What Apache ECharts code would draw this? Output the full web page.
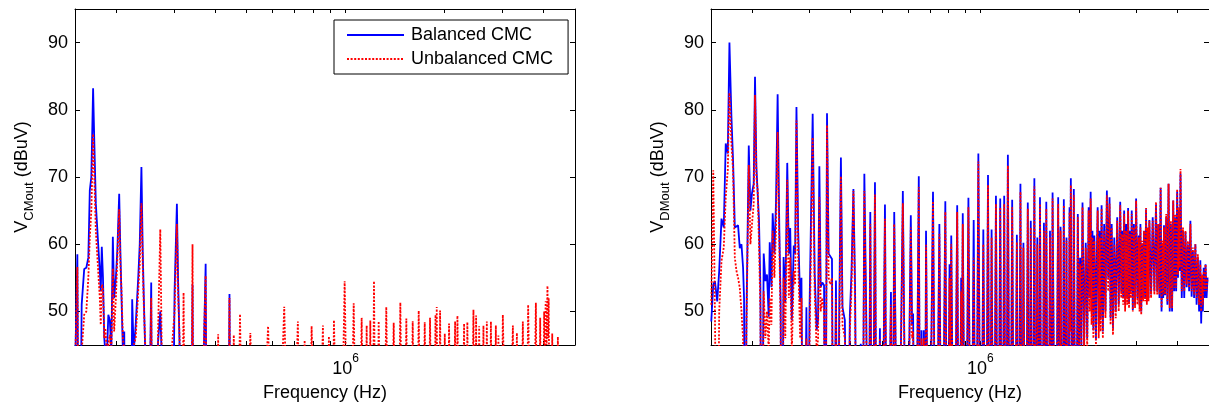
<!DOCTYPE html>
<html>
<head>
<meta charset="utf-8">
<script src="https://cdn.jsdelivr.net/npm/echarts@6/dist/echarts.min.js"></script>
<style>
  html, body { margin: 0; padding: 0; background: #fff; }
  #chart { width: 1209px; height: 409px; }
</style>
</head>
<body>
<div id="chart"></div>
<script>
// Common-mode output spectrum, [frequency in kHz, level in dBuV]; 10 dBuV marks the floor between harmonics
const cmBalanced = [
  [150.5,44],[152.5,58.5],[154.3,10],[157.2,51.0],[160.0,56.3],[162.4,56.5],[164.7,58.0],[166.4,68.0],
  [168.2,70.0],[170.3,83.2],[171.8,75.0],[173.6,66.0],[176.0,61.0],[178.5,56.0],[179.7,53.0],[181.0,59.6],
  [182.5,55.1],[184.2,46.0],[185.5,44.0],[187.5,43.0],[189.5,49.5],[191.5,48.7],[193.5,44.0],[195.6,61.1],
  [197.4,52.0],[199.8,55.0],[201.9,59.2],[204.5,67.5],[206.2,59.0],[207.7,52.7],[209.9,44.0],[211.9,47.0],
  [214.2,10],[221.0,10],[224.0,51.8],[226.4,44.0],[229.6,48.0],[233.7,55.0],[236.2,60.0],[239.0,71.5],
  [241.2,59.0],[243.0,52.1],[245.5,44.0],[249.0,10],[256.0,54.3],[258.4,10],[268.6,45.5],[272.8,50.0],
  [275.3,44.0],[280.0,10],[295.3,10],[301.6,53.0],[306.5,66.0],[309.0,55.0],[312.3,45.0],[316.0,10],
  [338.0,10],[342.0,54.0],[345.0,10],[365.0,10],[370.6,45.0],[375.0,57.1],[379.0,10],[438.0,10],
  [443.2,52.6],[448.0,10],[5000,10]
];
const cmUnbalanced = [
  [150.5,44],[152.5,56.6],[154.3,10],[157.2,44],[160.0,49.5],[162.4,50.0],[164.7,55.0],[166.4,61.0],
  [168.2,65.0],[170.3,76.4],[171.8,70.0],[173.6,62.0],[176.0,57.0],[178.5,52.0],[179.7,48.0],[181.0,54.0],
  [182.5,53.6],[184.2,46.0],[185.5,47.5],[187.5,44.0],[189.5,45.0],[191.5,46.5],[193.5,44.0],[195.6,56.4],
  [197.4,47.0],[199.8,52.0],[201.9,58.0],[204.5,65.2],[206.2,57.0],[207.7,53.5],[209.9,46.0],[211.9,44.0],
  [214.2,10],[224.0,44.0],[226.4,45.0],[229.6,46.0],[233.7,53.0],[236.2,57.0],[239.0,66.1],[241.2,57.0],
  [243.0,51.0],[245.5,45.0],[249.0,10],[256.0,52.0],[258.4,10],[266.0,10],[268.6,47.0],[272.8,62.2],
  [275.3,46.0],[280.0,10],[295.3,44.0],[301.6,50.0],[306.5,63.0],[309.0,53.0],[312.3,46.0],[316.0,10],
  [321.2,52.8],[326.0,10],[338.0,10],[342.0,60.0],[345.0,10],[365.0,10],[370.6,46.0],[375.0,55.3],
  [379.0,10],[405.0,10],[409.4,46.6],[414.0,10],[438.0,10],[443.2,52.0],[448.0,10],[456.8,46.5],
  [465.0,10],[477.2,49.6],[490.0,10],[513.0,46.8],[540.0,10],[581.0,47.8],[610.0,10],[650.7,50.7],
  [680.0,10],[716.0,48.5],[733.0,10],[750.8,45.7],[770.0,10],[788.4,47.8],[820.0,10],[853.5,47.9],
  [872.0,10],[890.0,46.3],[906.0,10],[922.0,48.7],[958.0,10],[994.0,54.5],[1026,10],[1059,51.2],
  [1090,10],[1120,49.05],[1140,10],[1160,47.9],[1175,10],[1190,48.65],[1205,10],[1221,54.5],
  [1241,10],[1262,48.55],[1296,10],[1331,50.65],[1366,10],[1402,48.3],[1435,10],[1469,51.3],
  [1500,10],[1532,48.95],[1567,10],[1602,48.55],[1636,10],[1671,50.1],[1707,10],[1743,48.4],
  [1776,10],[1809,49.05],[1850,10],[1880,49.5],[1888,10],[1896,50.65],[1918,10],[1941,50.15],
  [1973,10],[2006,46.7],[2036,10],[2067,48.2],[2110,10],[2157,48.5],[2175,10],[2192,49.35],
  [2245,10],[2297,48.2],[2323,10],[2350,48.4],[2400,10],[2453,50.25],[2476,10],[2499,49.4],
  [2526,10],[2553,47.8],[2592,10],[2631,47.9],[2662,10],[2694,48.5],[2733,10],[2772,48.5],
  [2821,10],[2870,47.9],[2896,10],[2922,46.4],[2968,10],[3014,49.5],[3124,10],[3234,47.9],
  [3280,10],[3326,46.8],[3397,10],[3468,48.5],[3534,10],[3600,51.0],[3700,10],[3800,51.3],
  [3858,10],[3917,49.05],[3972,10],[4027,50.0],[4048,44],[4070,51.5],[4096,45],[4122,53.8],
  [4140,46],[4157,52.0],[4210,10],[4262,46.7],[4350,10],[4434,46.2],[4520,10],[5000,10]
];

// Differential-mode output spectrum, [frequency in kHz, level in dBuV]
const dmBalanced = [
  [150.3,48.5],[152.4,54.0],[154.2,54.5],[156.7,51.5],[158.9,56],[161.5,63.8],[164.1,62.5],[166.4,75],
  [168.8,73.5],[170.8,90],[173.2,79],[175.2,72.5],[177.4,62.5],[179.5,62.3],[181.5,62.8],[183.7,59.4],
  [185.9,60],[188.0,56.5],[189.3,52],[190.7,10],[192.5,48.7],[195.7,74.7],[198.0,65],[200.2,67.6],
  [202.6,69],[204.5,84.9],[206.5,71.5],[208.4,71.5],[210.3,63.6],[212.4,53.6],[214.3,10],[217.4,58.6],
  [220.0,54.5],[222.5,55.5],[225.2,49.2],[226.8,60.3],[229.5,53.6],[231.6,64.6],[234.4,58.6],[237.0,66],
  [239.8,82.3],[242.7,62],[244.9,51.4],[247.1,10],[250.1,58.1],[253.1,51.4],[256.6,72.1],[259.5,58.6],
  [262.0,62.4],[265.0,48.7],[268.7,59.8],[271.3,58.6],[273.8,80.4],[277.1,62.1],[281.0,51.4],[283.6,55],
  [287.6,10],[293.7,50.6],[297.0,10],[300.0,49.5],[306.9,79.4],[311.3,55.6],[315.7,47.2],[318.8,48.7],
  [321.7,71.6],[324.7,53.6],[328.5,54.3],[332.5,53.9],[335.5,10],[339.5,79.5],[343.4,58.6],[347.4,58.6],
  [351.6,57.8],[355.6,10],[361.6,54.6],[365.6,10],[370.0,49.5],[374.4,72.9],[378.6,50.6],[385.0,48.7],
  [392.1,10],[398.7,49.5],[403.2,55.4],[408.9,68.2],[413.7,53.6],[419.6,10],[430.5,45.2],[435.4,10],
  [441.6,70.5],[447.8,48.7],[454.2,10],[460.5,64.8],[467.0,10],[475.9,69.2],[482.6,10],[492.8,47.5],
  [498.7,10],[510.6,65.9],[518.8,10],[532.6,52.9],[537.4,10],[545.0,64.8],[560.0,10],[579.1,67.9],
  [595.0,10],[612.5,64.3],[618.0,48],[622.4,49.7],[633.0,10],[647.9,70.1],[655.0,10],[660.3,47.2],
  [666.0,10],[671.0,47.2],[676.0,10],[681.8,62],[695.0,10],[716.1,67.8],[731.3,10],[748.9,63],
  [762.7,10],[781.0,66.4],[793.0,10],[804.6,57.0],[809.0,45.0],[814.3,61.3],[831.0,10],[849.1,65.8],
  [861.0,10],[873.1,55.0],[878.0,44.0],[883.0,64.6],[900.0,10],[918.9,66.9],[936.0,10],[953.6,63.6],
  [969.0,10],[985.5,73.5],[1003,10],[1020.6,62.2],[1038,10],[1054.8,70.3],[1068,10],[1081.8,62.2],
  [1098,10],[1115.5,67.2],[1132,10],[1149.6,66.8],[1166,10],[1182.2,67.2],[1197,10],[1213.2,73.3],
  [1232,10],[1250.5,66.6],[1271,10],[1292.4,61.4],[1309,10],[1325.4,69.0],[1340,10],[1353.5,60.2],
  [1375,10],[1395.9,66.2],[1410,10],[1425.3,63.5],[1443,10],[1461.9,69.8],[1477,10],[1492.8,61.0],
  [1507,10],[1521,67.0],[1542,10],[1564,63.2],[1577,10],[1590,66.3],[1611,10],[1632,62.0],
  [1647,10],[1662,67.7],[1695,10],[1729,67.0],[1743,10],[1758,62.6],[1778,10],[1799,66.7],
  [1816,10],[1833,61.0],[1853,10],[1873,65.5],[1881,48.0],[1890,69.8],[1910,10],[1930,68.2],
  [1958,10],[1985,64.5],[2002,44],[2018,58],[2035,45],[2052,66.2],[2075,45],[2099,60.2],
  [2121,46],[2143,65.5],[2158,52],[2173,67.8],[2187,50],[2201,62],[2215,47.2],[2230,61.3],
  [2256,45.7],[2269,58],[2283,65.5],[2300,48],[2315,62],[2331,49],[2347,65.8],[2368,47],
  [2390,63],[2412,50],[2436,68],[2459,55],[2482,67],[2500,49],[2520,63],[2543,47.5],
  [2566,61],[2593,50],[2620,64],[2648,51],[2676,66.3],[2695,53],[2713,62],[2732,52],
  [2751,65],[2770,51],[2790,63],[2810,52],[2829,65.4],[2847,51.1],[2865,62],[2883,53],
  [2902,65],[2924,50.2],[2946,63],[2970,51],[2993,66.8],[3020,52],[3048,61.3],[3066,51],
  [3085,63],[3103,50],[3121,60.1],[3143,52],[3165,62],[3188,51.9],[3210,65.2],[3228,51.5],
  [3247,62],[3266,52],[3285,63.6],[3325,52.5],[3364,64],[3404,53],[3443,65.9],[3472,53],
  [3500,63],[3528,52],[3557,68.4],[3580,50],[3605,60],[3622,52],[3642,62.8],[3670,52.4],
  [3700,64],[3730,51],[3761,69],[3792,50],[3824,63],[3855,50],[3887,66.5],[3913,53],
  [3940,64],[3968,53],[3996,67.8],[4020,55],[4043,65],[4067,56],[4091,70.5],[4127,52],
  [4163,62],[4200,52],[4236,61.8],[4273,53.6],[4310,60],[4348,53],[4386,63.5],[4424,52.2],
  [4463,59],[4502,52],[4542,60],[4582,51],[4622,58],[4663,50],[4704,57.6],[4732,48.2],
  [4760,55],[4788,50],[4817,56.5],[4848,52],[4880,57],[4915,52],[4950,55]
];
const dmUnbalanced = [
  [150.3,51],[152.4,71.0],[154.2,50],[156.7,10],[158.9,50],[161.5,57.5],[164.1,59.5],[166.4,67],
  [168.8,71],[170.8,82.5],[173.2,75],[175.2,71],[177.4,58],[179.5,56],[181.5,55],[183.7,53.5],
  [185.9,50],[188.0,46],[189.3,10],[190.7,10],[192.5,47],[195.7,71.8],[198.0,60],[200.2,63],
  [202.6,66],[204.5,82.2],[206.5,70],[208.4,68],[210.3,60],[212.4,50],[214.3,10],[217.4,53],
  [220.0,46],[222.5,50],[225.2,44],[226.8,52],[229.5,48],[231.6,62],[234.4,55],[237.0,62],
  [239.8,76.7],[242.7,60],[244.9,48],[247.1,10],[250.1,55],[253.1,46],[256.6,69.6],[259.5,52],
  [262.0,58],[265.0,44],[268.7,56],[271.3,54],[273.8,78.4],[277.1,58],[281.0,46],[283.6,52],
  [287.6,10],[293.7,46],[297.0,10],[300.0,44],[306.9,75.9],[311.3,53],[315.7,44],[318.8,46],
  [321.7,67],[324.7,50],[328.5,52],[332.5,50],[335.5,10],[339.5,77.7],[343.4,55],[347.4,54],
  [351.6,55],[355.6,10],[361.6,52],[365.6,10],[370.0,46],[374.4,70.1],[378.6,48],[385.0,46],
  [392.1,10],[398.7,47],[403.2,53],[408.9,67.9],[413.7,51],[419.6,10],[430.5,44],[435.4,10],
  [441.6,67.9],[447.8,46],[454.2,10],[460.5,63],[467.0,10],[475.9,67.4],[482.6,10],[492.8,46],
  [498.7,10],[510.6,63.8],[518.8,10],[532.6,51],[537.4,10],[545.0,63],[560.0,10],[579.1,66.1],
  [595.0,10],[612.5,62.5],[618.0,46],[622.4,47],[633.0,10],[647.9,68.5],[655.0,10],[660.3,46],
  [666.0,10],[671.0,46],[676.0,10],[681.8,59.9],[695.0,10],[716.1,66.4],[731.3,10],[748.9,61.5],
  [762.7,10],[781.0,64.8],[793.0,10],[804.6,55.0],[809.0,44.0],[814.3,60.0],[831.0,10],[849.1,64.8],
  [861.0,10],[873.1,53.0],[878.0,43.0],[883.0,63.0],[900.0,10],[918.9,65.5],[936.0,10],[953.6,58.0],
  [969.0,10],[985.5,72.3],[1003,10],[1020.6,60.0],[1038,10],[1054.8,68.8],[1068,10],[1081.8,61.0],
  [1098,10],[1115.5,66.0],[1132,10],[1149.6,65.5],[1166,10],[1182.2,66.0],[1197,10],[1213.2,71.7],
  [1232,10],[1250.5,65.5],[1271,10],[1292.4,60.3],[1309,10],[1325.4,67.8],[1340,10],[1353.5,59.5],
  [1375,10],[1395.9,65.3],[1410,10],[1425.3,62.5],[1443,10],[1461.9,68.6],[1477,10],[1492.8,60.0],
  [1507,10],[1521,66.0],[1542,10],[1564,62.0],[1577,10],[1590,65.3],[1611,10],[1632,61.0],
  [1647,10],[1662,66.8],[1695,10],[1729,66.0],[1743,10],[1758,62.0],[1778,10],[1799,65.8],
  [1816,10],[1833,60.5],[1853,10],[1873,64.8],[1881,47.0],[1890,68.8],[1910,10],[1930,67.3],
  [1958,10],[1985,64.0],[2002,43],[2018,57],[2035,44],[2052,65.5],[2075,44],[2099,59.5],
  [2121,44],[2143,65.0],[2158,50],[2173,66.8],[2187,48],[2201,61],[2215,46],[2230,60.5],
  [2256,44.5],[2269,57],[2283,65.0],[2300,46],[2315,61],[2331,47],[2347,65.3],[2368,46],
  [2390,62],[2412,49],[2436,67.3],[2459,53],[2482,66.0],[2500,48],[2520,62.5],[2543,46.5],
  [2566,60.0],[2593,49],[2620,63.5],[2648,50],[2676,65.8],[2695,52],[2713,61.5],[2732,51],
  [2751,64.5],[2770,50],[2790,62],[2810,51],[2829,65.0],[2847,50.5],[2865,61.5],[2883,52],
  [2902,64.5],[2924,50],[2946,62.5],[2970,50.5],[2993,66.5],[3020,51],[3048,61.0],[3066,50],
  [3085,62.5],[3103,49.5],[3121,60.5],[3143,51.5],[3165,62],[3188,51.5],[3210,65.4],[3228,51],
  [3247,62.5],[3266,51.5],[3285,63.5],[3325,52],[3364,63.5],[3404,52.5],[3443,66.3],[3472,52.5],
  [3500,63],[3528,52.5],[3557,68.4],[3580,50.5],[3605,60.5],[3622,52.5],[3642,62.5],[3670,52.5],
  [3700,64.5],[3730,51.5],[3761,69.0],[3792,50.5],[3824,63.5],[3855,50.5],[3887,66.5],[3913,53.5],
  [3940,64.5],[3968,53.5],[3996,68.2],[4020,55.5],[4043,65.5],[4067,56.5],[4091,71.2],[4127,53],
  [4163,62.5],[4200,53],[4236,62.0],[4273,54],[4310,60.5],[4348,53.5],[4386,63.0],[4424,53],
  [4463,59.5],[4502,52.5],[4542,60.0],[4582,52],[4622,58.5],[4663,51],[4704,57.0],[4732,50],
  [4760,55.5],[4788,51],[4817,56.0],[4848,53],[4880,57],[4915,53],[4950,55.0]
];

const seriesNames = ['Balanced CMC', 'Unbalanced CMC'];
const yTickValues = [50, 60, 70, 80, 90];
const xTickValuesHz = [2e5, 3e5, 4e5, 5e5, 6e5, 7e5, 8e5, 9e5, 1e6, 2e6, 3e6, 4e6];
const xLabelValuesHz = [1e6];
const ySubscripts = ['CMout', 'DMout'];

const FONT = '"Liberation Sans", Arial, Helvetica, sans-serif';
const BLUE = '#0000ff';
const RED = '#ff0000';

const toHz = pts => pts.map(p => [p[0] * 1000, p[1]]);

function xAxesFor(gridIndex) {
  const common = {
    type: 'log', logBase: 10, min: 1.5e5, max: 5e6, gridIndex,
    splitLine: { show: false },
    axisLine: { show: true, lineStyle: { color: '#000', width: 1 } },
    axisTick: { show: true, inside: true, length: 4, customValues: xTickValuesHz,
                lineStyle: { color: '#000', width: 1 } }
  };
  return [
    Object.assign({}, common, {
      position: 'bottom',
      name: 'Frequency (Hz)', nameLocation: 'middle', nameGap: 39,
      nameTextStyle: { fontSize: 18, color: '#000', fontFamily: FONT },
      axisLabel: {
        customValues: xLabelValuesHz, margin: 8,
        formatter: () => '{b|10}{s|6}',
        rich: {
          b: { fontSize: 18, fontFamily: FONT, color: '#000', lineHeight: 32 },
          s: { fontSize: 12, fontFamily: FONT, color: '#000', verticalAlign: 'top' }
        }
      }
    }),
    Object.assign({}, common, { position: 'top', axisLabel: { show: false } })
  ];
}

function yAxesFor(gridIndex, sub) {
  const common = {
    type: 'value', min: 45, max: 95, gridIndex,
    splitLine: { show: false },
    axisLine: { show: true, lineStyle: { color: '#000', width: 1 } },
    axisTick: { show: true, inside: true, length: 5, customValues: yTickValues,
                lineStyle: { color: '#000', width: 1 } }
  };
  return [
    Object.assign({}, common, {
      position: 'left',
      axisLabel: { customValues: yTickValues, fontSize: 18, fontFamily: FONT, color: '#000', margin: 7 },
      name: '{v|V}{s|' + sub + '}{v| (dBuV)}',
      nameLocation: 'middle', nameRotate: 90, nameGap: 39,
      nameTextStyle: {
        rich: {
          v: { fontSize: 18, fontFamily: FONT, color: '#000', lineHeight: 28 },
          s: { fontSize: 13, fontFamily: FONT, color: '#000', verticalAlign: 'bottom' }
        }
      }
    }),
    Object.assign({}, common, { position: 'right', axisLabel: { show: false } })
  ];
}

function seriesFor(axisIndex, balanced, unbalanced) {
  return [
    {
      name: seriesNames[0], type: 'line', xAxisIndex: axisIndex, yAxisIndex: axisIndex,
      data: toHz(balanced), symbol: 'none', showSymbol: false, clip: true, z: 2,
      lineStyle: { color: BLUE, width: 1.8 }, itemStyle: { color: BLUE }
    },
    {
      name: seriesNames[1], type: 'line', xAxisIndex: axisIndex, yAxisIndex: axisIndex,
      data: toHz(unbalanced), symbol: 'none', showSymbol: false, clip: true, z: 3,
      lineStyle: { color: RED, width: 1.8, type: [2, 1.6] }, itemStyle: { color: RED }
    }
  ];
}

const chart = echarts.init(document.getElementById('chart'), null, { renderer: 'canvas' });
chart.setOption({
  animation: false,
  backgroundColor: '#fff',
  grid: [
    { left: 75, top: 9, width: 500, height: 336 },
    { left: 711, top: 9, width: 500, height: 336 }
  ],
  xAxis: [].concat(xAxesFor(0), xAxesFor(1)),
  yAxis: [].concat(yAxesFor(0, ySubscripts[0]), yAxesFor(1, ySubscripts[1])),
  legend: {
    data: seriesNames, orient: 'vertical', left: 334, top: 20,
    backgroundColor: '#fff', borderColor: '#000', borderWidth: 1, borderRadius: 0,
    padding: [6, 15, 6, 12], itemGap: 6, itemWidth: 57, itemHeight: 14,
    selectedMode: false,
    itemStyle: { color: 'rgba(0,0,0,0)', borderWidth: 0, opacity: 0 },
    textStyle: { fontSize: 18, fontFamily: FONT, color: '#000', padding: [0, 0, 0, 2] }
  },
  series: [].concat(
    seriesFor(0, cmBalanced, cmUnbalanced),
    seriesFor(2, dmBalanced, dmUnbalanced)
  )
});
</script>
</body>
</html>
